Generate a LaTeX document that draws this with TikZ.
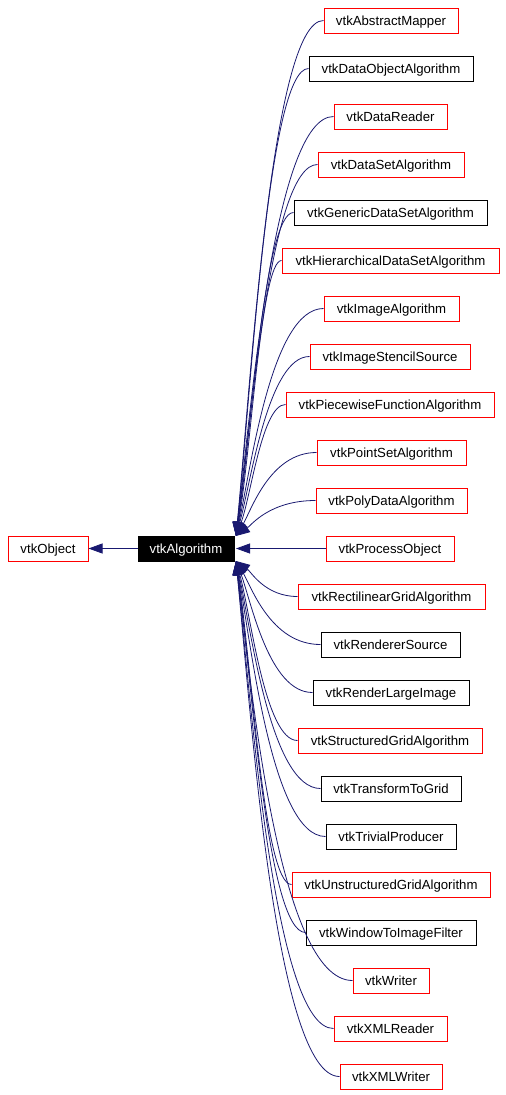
\documentclass[tikz,border=0pt]{standalone}
\usepackage{fontspec}
\setmainfont{Liberation Sans}
\usetikzlibrary{arrows.meta,calc}
\definecolor{edgeblue}{HTML}{191970}
\definecolor{boxred}{HTML}{FF0000}
\begin{document}
\begin{tikzpicture}[x=1pt,y=-1pt,
  box/.style={draw, line width=1pt, minimum height=25pt, inner sep=0pt,
    text height=9.5pt, text depth=0pt,
    font=\fontsize{13.2}{16}\selectfont, fill=white},
  edge/.style={draw=edgeblue, line width=0.8pt,
    -{Triangle[length=14pt,width=10pt]}}]
\useasboundingbox (0,0) rectangle (506,1095);
\def\children{am/vtkAbstractMapper/324/458/20.5/boxred,
doa/vtkDataObjectAlgorithm/309/473/68.5/black,
dr/vtkDataReader/334/447/116.5/boxred,
dsa/vtkDataSetAlgorithm/318/464/164.5/boxred,
gdsa/vtkGenericDataSetAlgorithm/294/487/212.5/black,
hdsa/vtkHierarchicalDataSetAlgorithm/282/499/260.5/boxred,
ia/vtkImageAlgorithm/324/459/308.5/boxred,
iss/vtkImageStencilSource/310/470/356.5/boxred,
pfa/vtkPiecewiseFunctionAlgorithm/286/494/404.5/boxred,
psa/vtkPointSetAlgorithm/317/466/452.5/boxred,
pda/vtkPolyDataAlgorithm/316/467/500.5/boxred,
po/vtkProcessObject/326/454/548.5/boxred,
rga/vtkRectilinearGridAlgorithm/298/485/596.5/boxred,
rs/vtkRendererSource/321/460/644.5/black,
rli/vtkRenderLargeImage/313/469/692.5/black,
sga/vtkStructuredGridAlgorithm/298/482/740.5/boxred,
ttg/vtkTransformToGrid/321/461/788.5/black,
tp/vtkTrivialProducer/326/456/836.5/black,
uga/vtkUnstructuredGridAlgorithm/292/490/884.5/boxred,
wtif/vtkWindowToImageFilter/306/476/932.5/black,
w/vtkWriter/353/429/980.5/boxred,
xr/vtkXMLReader/334/447/1028.5/boxred,
xw/vtkXMLWriter/340/442/1076.5/boxred}
% base classes
\node[box, draw=boxred, minimum width=80pt] (obj) at (48,548.5) {vtkObject};
\node[box, fill=black, text=white, minimum width=96pt] (alg) at (186,548.5) {vtkAlgorithm};
\draw[edge] (alg.west) -- (obj.east);
% children
\foreach \n/\t/\l/\r/\y/\c in \children {
  \pgfmathsetmacro\w{\r-\l}
  \pgfmathsetmacro\cx{(\l+\r)/2}
  \node[box, draw=\c, minimum width=\w pt] (\n) at (\cx,\y) {\t};
}
\foreach \n/\t/\l/\r/\y/\c in \children {
  \pgfmathsetmacro\ey{\y<540 ? 536 : (\y>560 ? 561 : 548.5)}
  \pgfmathsetmacro\cax{254+0.25*(\l-254)}
  \pgfmathsetmacro\cby{\ey-0.3*(\ey-\y)}
  \draw[edge] (\n.west) .. controls (\cax,\y) and (251,\cby) .. (236,\ey);
}
\end{tikzpicture}
\end{document}
